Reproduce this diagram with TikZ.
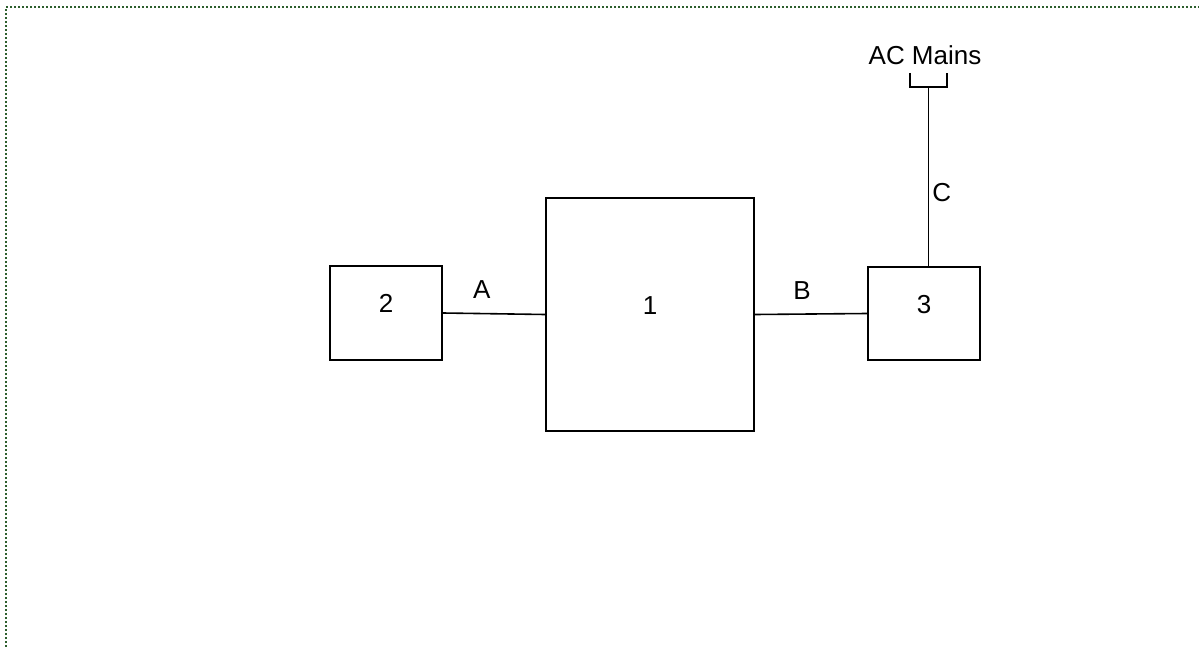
\documentclass[tikz,border=0pt]{standalone}
\usepackage{fontspec}
\setmainfont{Liberation Sans}
\begin{document}
\begin{tikzpicture}[x=0.5pt, y=-0.5pt, line width=0.8pt,
    font=\fontsize{13}{15}\selectfont,
    blk/.style={draw, inner sep=0pt, text height=9.5pt, text depth=10pt},
    wire/.style={draw},
    tag/.style={inner sep=0pt},
    frame/.style={draw={rgb,255:red,45;green,95;blue,45}, line width=1pt, dash pattern=on 1pt off 1pt}]
            \useasboundingbox (0,0) rectangle (1199,647);
            \draw [frame] (6,647) -- (6,7) -- (1199,7);
            \node [blk, minimum width=56pt, minimum height=47pt] (two) at (386,313) {2};
            \node [blk, minimum width=104pt, minimum height=116.5pt] (one) at (650,314.5) {1};
            \node [blk, minimum width=56pt, minimum height=46.5pt] (three) at (924,313.5) {3};
            \node [tag] (mains) at (925,55) {AC Mains};
            \coordinate (plug) at (928.5,87);
            \draw (910,73) -- (910,87) -- (947,87) -- (947,73);
            \draw [wire] (two.east) -- node[tag, pos=0.38, above=7pt] {A} (one.west);
            \draw [wire] (one.east) -- node[tag, pos=0.42, above=7pt] {B} (three.west);
            \draw [wire] (three.north -| plug) -- node[tag, pos=0.41, anchor=west, xshift=1.5pt] {C} (plug);
        \end{tikzpicture}
\end{document}
